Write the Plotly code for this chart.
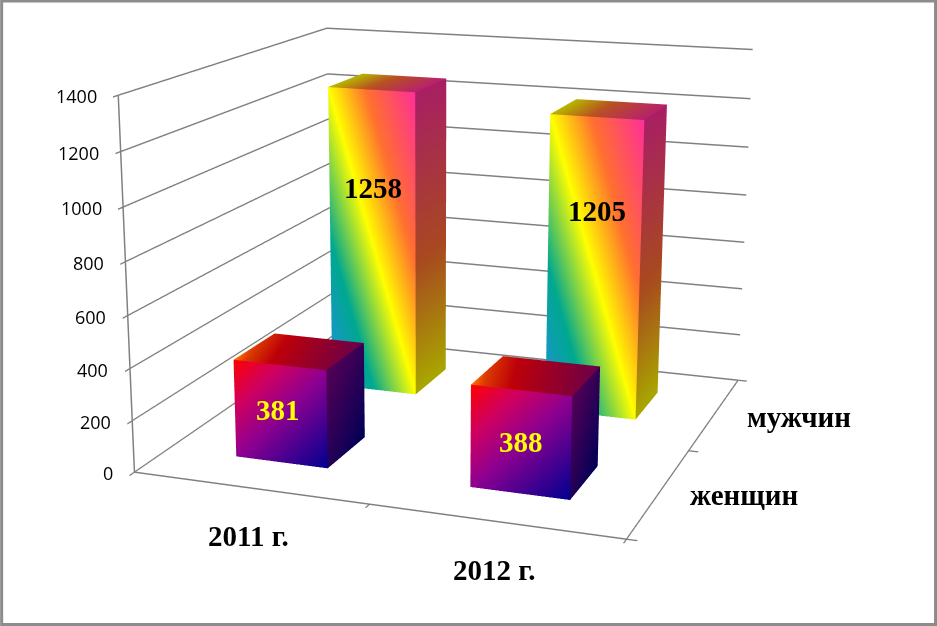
import numpy as np
import plotly.graph_objects as go

W, H = 937, 626
categories = ["2011 г.", "2012 г."]
series_names = ["женщин", "мужчин"]
women = [381, 388]
men = [1258, 1205]
z_ticks = [0, 200, 400, 600, 800, 1000, 1200, 1400]
ZMAX = 1400
BAR_W, BAR_D = 0.401, 0.394

# Camera that reproduces the reference's perspective (fitted to the picture)
EYE = np.array([1.304, -3.722, 0.99])
CENTER = np.array([0.004, -0.174, -0.06])
ASPECT = np.array([1.0, 0.997, 0.751])
S, OX, OY = 2.599, 430.9, 300.4
FW, FH = S*W, S*H
LEFT, TOP = OX-FW/2, OY-FH/2
F = 1/np.tan(np.pi/8)

def pxx(x): return (x-LEFT)/FW
def pxy(y): return 1-(y-TOP)/FH
def at(x, y, z):
    n = np.array([x/2-.5, y/2-.5, z/ZMAX-.5])*ASPECT
    f = CENTER-EYE; f = f/np.linalg.norm(f)
    s = np.cross(f, [0, 0, 1]); s = s/np.linalg.norm(s)
    u = np.cross(s, f)
    r = n-EYE
    fl = S*H/2*F
    return float(OX+fl*(r@s)/(r@f)), float(OY-fl*(r@u)/(r@f))

def lerp_stops(t, stops):
    ts = [s[0] for s in stops]
    return [float(np.interp(t, ts, [s[1][k] for s in stops])) for k in range(3)]
def col(rgb, m=1.0):
    return "rgb(%d,%d,%d)" % tuple(int(min(255, v*m)) for v in rgb)
RAINBOW = [(0,(32,144,224)),(.25,(0,168,144)),(.5,(255,255,0)),(.72,(255,112,48)),(1,(255,48,152))]
DARK = [(0,(255,0,0)),(.25,(208,0,96)),(.5,(144,0,144)),(1,(0,0,144))]
TOPDARK = [(0,(255,120,0)),(.06,(220,60,0)),(.2,(190,0,10)),(.65,(100,0,80)),(1,(90,0,90))]

def box(xc, yc, dz, front, side, top, n=24):
    X, Y, Z, C, I, J, K = [], [], [], [], [], [], []
    x0, y0 = xc-BAR_W/2, yc-BAR_D/2
    x1 = x0+BAR_W
    def face(fn, cf):
        base = len(X)
        for a in range(n+1):
            for b in range(n+1):
                u, v = a/n, b/n
                px, py, pz = fn(u, v)
                X.append(px); Y.append(py); Z.append(pz); C.append(cf(u, v))
        for a in range(n):
            for b in range(n):
                q = base+a*(n+1)+b
                I.extend([q, q+1]); J.extend([q+1, q+n+2]); K.extend([q+n+1, q+n+1])
    face(lambda u, v: (x0+BAR_W*u, y0, dz*v), front)
    face(lambda u, v: (x1, y0+BAR_D*u, dz*v), side)
    face(lambda u, v: (x0+BAR_W*u, y0+BAR_D*v, dz), top)
    return go.Mesh3d(x=X, y=Y, z=Z, i=I, j=J, k=K, vertexcolor=C, hoverinfo="skip",
                     lighting=dict(ambient=1, diffuse=0, specular=0, roughness=1, fresnel=0), showscale=False)

def rb_front(u, v): return col(lerp_stops((u+v)/2, RAINBOW))
def rb_side(u, v): return col(lerp_stops(.5+.5*v, RAINBOW), .66)
def rb_top(u, v): return col(lerp_stops(.5+.5*u, RAINBOW), .72)
def dk_front(u, v): return col(lerp_stops((u+1-v)/2, DARK))
def dk_side(u, v): return col(lerp_stops(.5+.5*(u*.4+(1-v)*.6), DARK), .6)
def dk_top(u, v): return col(lerp_stops(.5*u+.12*v, TOPDARK))

fig = go.Figure()
for i in range(2):
    fig.add_trace(box(i+.5, 1.5, men[i], rb_front, rb_side, rb_top))
    fig.add_trace(box(i+.5, .5, women[i], dk_front, dk_side, dk_top))

lab = dict(family="Liberation Serif", size=29)
ann = []
def label(x, y, z, text, tx, ty, color):
    px, py = at(x, y, z)
    ann.append(dict(x=x, y=y, z=z, text="<b>%s</b>" % text, showarrow=False, xshift=tx-px, yshift=py-ty, font=dict(color=color, **lab)))
cat_px = [(249, 536), (494, 570)]
ser_px = [(744, 495), (799, 417)]
men_px = [(373, 188), (597, 211)]
wom_px = [(278, 410), (521, 442)]
for i, c in enumerate(categories):
    label(i+.5, 0, 0, c, *cat_px[i], "black")
for j, s_ in enumerate(series_names):
    label(2, j+.5, 0, s_, *ser_px[j], "black")
for i in range(2):
    label(i+.5, 1.5-BAR_D/2, men[i]/2, str(men[i]), *men_px[i], "black")
    label(i+.5, .5-BAR_D/2, women[i]/2, str(women[i]), *wom_px[i], "#ffff00")
for v in z_ticks:
    ann.append(dict(x=0, y=0, z=v, text=str(v), showarrow=False, xanchor="right", xshift=-19.5, yshift=-1,
                    font=dict(family="Open Sans", size=18, color="black")))

grey = "#808080"
cat_ax = dict(showbackground=False, showgrid=False, zeroline=False, showline=True, linecolor=grey, linewidth=3, ticks="outside", ticklen=8,
              tickcolor=grey, tickwidth=3, title=dict(text=""), showspikes=False, showticklabels=False, tickmode="array", tickvals=[0, 1, 2], range=[0, 2])
fig.update_layout(
    width=FW, height=FH, margin=dict(l=0, r=0, t=0, b=0), paper_bgcolor="white", showlegend=False,
    scene=dict(domain=dict(x=[0, 1], y=[0, 1]), xaxis=cat_ax, yaxis=cat_ax,
        zaxis=dict(range=[0, ZMAX], tickmode="array", tickvals=z_ticks, showbackground=False, showgrid=True, gridcolor=grey, gridwidth=3, zeroline=False,
                   showline=True, linecolor=grey, linewidth=3, ticks="outside", ticklen=8, tickcolor=grey, tickwidth=3, title=dict(text=""), showspikes=False,
                   showticklabels=False),
        aspectmode="manual", aspectratio=dict(x=float(ASPECT[0]), y=float(ASPECT[1]), z=float(ASPECT[2])),
        camera=dict(eye=dict(x=float(EYE[0]), y=float(EYE[1]), z=float(EYE[2])), center=dict(x=float(CENTER[0]), y=float(CENTER[1]), z=float(CENTER[2])),
                    up=dict(x=0, y=0, z=1), projection=dict(type="perspective")),
        annotations=ann),
    shapes=[dict(type="rect", xref="paper", yref="paper", x0=pxx(2), x1=pxx(936), y0=pxy(624.5), y1=pxy(1), line=dict(color="#8c8c8c", width=3))],
)
post = ("document.body.style.margin='0';document.documentElement.style.overflow='hidden';document.body.style.overflow='hidden';"
        "var gd=document.getElementById('{plot_id}');gd.style.position='absolute';gd.style.left='%.2fpx';gd.style.top='%.2fpx';" % (LEFT, TOP))
fig.write_html("out.html", config=dict(displayModeBar=False), post_script=post)
